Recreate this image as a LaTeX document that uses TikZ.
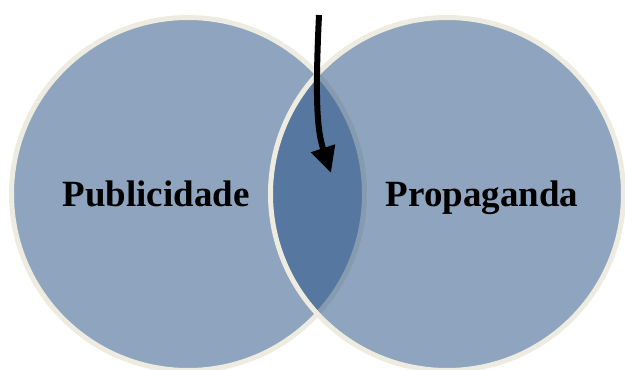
\documentclass[tikz,border=0pt]{standalone}
\usepackage{fontspec}
\setmainfont{Liberation Serif}
\usetikzlibrary{arrows.meta}
\definecolor{vennfill}{RGB}{31,75,127}
\definecolor{vennrim}{RGB}{238,236,225}

\begin{document}
\begin{tikzpicture}[x=1pt, y=1pt,
  venn/.style={circle, draw=vennrim, line width=5pt, fill=vennfill, fill opacity=0.5, draw opacity=1, minimum size=353pt, inner sep=0pt},
  vennlabel/.style={anchor=base, font=\fontsize{37}{44}\selectfont\bfseries}]
  \useasboundingbox (0,0) rectangle (625,370);
  \clip (0,0) rectangle (625,370);
  % the two sets
  \node[venn] (pub) at (188,176) {};
  \node[venn] (prop) at (447,176) {};
  \node[vennlabel] (publbl) at (156,163) {Publicidade};
  \node[vennlabel] (proplbl) at (482,163) {Propaganda};
  % arrow into the overlap
  \coordinate (arrowtail) at (319,355);
  \coordinate (arrowtip) at (331,197);
  \draw[line width=6pt, -{Triangle[length=26pt,width=24pt]}] (arrowtail) .. controls (315,270) and (317,240) .. (arrowtip);
\end{tikzpicture}
\end{document}
